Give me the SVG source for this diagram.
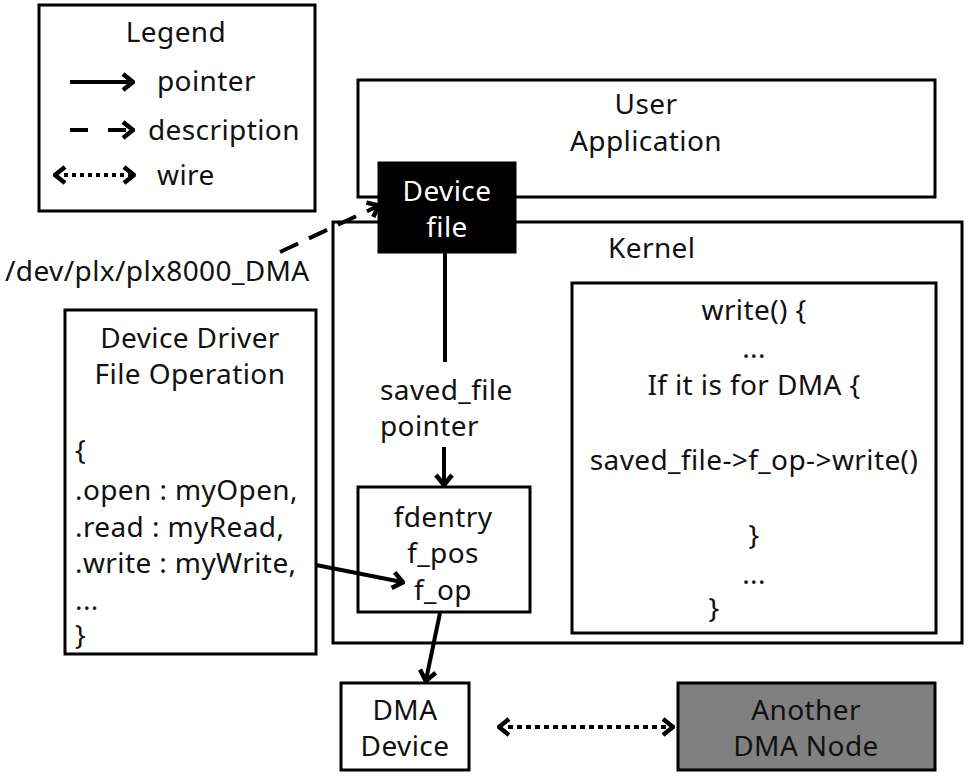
<svg xmlns="http://www.w3.org/2000/svg" width="969" height="777" viewBox="0 0 969 777">
<style>
  text { font-family: "Noto Sans", "Open Sans", sans-serif; font-size: 28px; letter-spacing: 0.4px; fill: #111; }
  .c { text-anchor: middle; }
  .box { fill: #fff; stroke: #000; stroke-width: 3; }
  .ln { fill: none; stroke: #000; stroke-width: 4; }
</style>
<defs>
  <marker id="ah" markerWidth="14" markerHeight="20" refX="11" refY="10" orient="auto" markerUnits="userSpaceOnUse">
    <path d="M2,2 L12,10 L2,18" fill="none" stroke="#000" stroke-width="4.5"/>
  </marker>
  <marker id="ahs" markerWidth="14" markerHeight="20" refX="3" refY="10" orient="auto-start-reverse" markerUnits="userSpaceOnUse">
    <path d="M2,2 L12,10 L2,18" fill="none" stroke="#000" stroke-width="4.5"/>
  </marker>
</defs>

<g id="legend">
  <rect class="box" x="39" y="5" width="276" height="206"/>
  <text class="c" x="176" y="42">Legend</text>
  <line class="ln" x1="70" y1="82" x2="132" y2="82" marker-end="url(#ah)"/>
  <text x="157" y="91">pointer</text>
  <line class="ln" x1="70" y1="130" x2="132" y2="130" stroke-dasharray="18,20" marker-end="url(#ah)"/>
  <text x="148" y="140">description</text>
  <line class="ln" x1="64" y1="175" x2="133" y2="175" stroke-dasharray="4,4" marker-start="url(#ahs)" marker-end="url(#ah)"/>
  <text x="157" y="185">wire</text>
</g>

<g id="kernel">
  <rect class="box" x="333" y="222" width="629" height="421"/>
  <text x="608" y="258">Kernel</text>
</g>

<g id="user-application">
  <rect class="box" x="358" y="80" width="577" height="117"/>
  <text class="c" x="646" y="114">User</text>
  <text class="c" x="646" y="151">Application</text>
</g>

<g id="device-file">
  <rect x="379" y="163" width="136" height="89" fill="#000" stroke="#000" stroke-width="3"/>
  <text class="c" x="447" y="201" style="fill:#fff">Device</text>
  <text class="c" x="447" y="237" style="fill:#fff">file</text>
</g>

<g id="dev-path">
  <text x="5" y="281">/dev/plx/plx8000_DMA</text>
</g>

<g id="saved-file-label">
  <text x="380" y="400">saved_file</text>
  <text x="380" y="436">pointer</text>
</g>

<g id="fdentry">
  <rect class="box" x="358" y="487" width="172" height="125"/>
  <text class="c" x="443" y="527">fdentry</text>
  <text class="c" x="443" y="563">f_pos</text>
  <text class="c" x="443" y="600">f_op</text>
</g>

<g id="device-driver">
  <rect class="box" x="65" y="310" width="251" height="344"/>
  <text class="c" x="190" y="348">Device Driver</text>
  <text class="c" x="190" y="384">File Operation</text>
  <text x="75" y="460">{</text>
  <text x="75" y="500">.open : myOpen,</text>
  <text x="75" y="537">.read : myRead,</text>
  <text x="75" y="573">.write : myWrite,</text>
  <text x="75" y="610">...</text>
  <text x="75" y="645">}</text>
</g>

<g id="write-func">
  <rect class="box" x="572" y="283" width="364" height="350"/>
  <text class="c" x="754" y="320">write() {</text>
  <text class="c" x="754" y="358">...</text>
  <text class="c" x="754" y="395">If it is for DMA {</text>
  <text class="c" x="754" y="470">saved_file-&gt;f_op-&gt;write()</text>
  <text class="c" x="754" y="545">}</text>
  <text class="c" x="754" y="584">...</text>
  <text class="c" x="714" y="618">}</text>
</g>

<g id="dma-device">
  <rect class="box" x="341" y="683" width="128" height="87"/>
  <text class="c" x="405" y="720">DMA</text>
  <text class="c" x="405" y="756">Device</text>
</g>

<g id="another-dma-node">
  <rect x="678" y="683" width="257" height="87" fill="#808080" stroke="#000" stroke-width="3"/>
  <text class="c" x="806" y="720">Another</text>
  <text class="c" x="806" y="756">DMA Node</text>
</g>

<g id="connectors">
  <line class="ln" x1="280" y1="252" x2="378" y2="206" stroke-dasharray="20,12" marker-end="url(#ah)"/>
  <line class="ln" x1="445" y1="252" x2="445" y2="362"/>
  <line class="ln" x1="444" y1="447" x2="444" y2="484" marker-end="url(#ah)"/>
  <line class="ln" x1="316" y1="565" x2="402" y2="582" marker-end="url(#ah)"/>
  <line class="ln" x1="440" y1="613" x2="426" y2="680" marker-end="url(#ah)"/>
  <line class="ln" x1="508" y1="727" x2="672" y2="727" stroke-dasharray="5,4" marker-start="url(#ahs)" marker-end="url(#ah)"/>
</g>
</svg>
